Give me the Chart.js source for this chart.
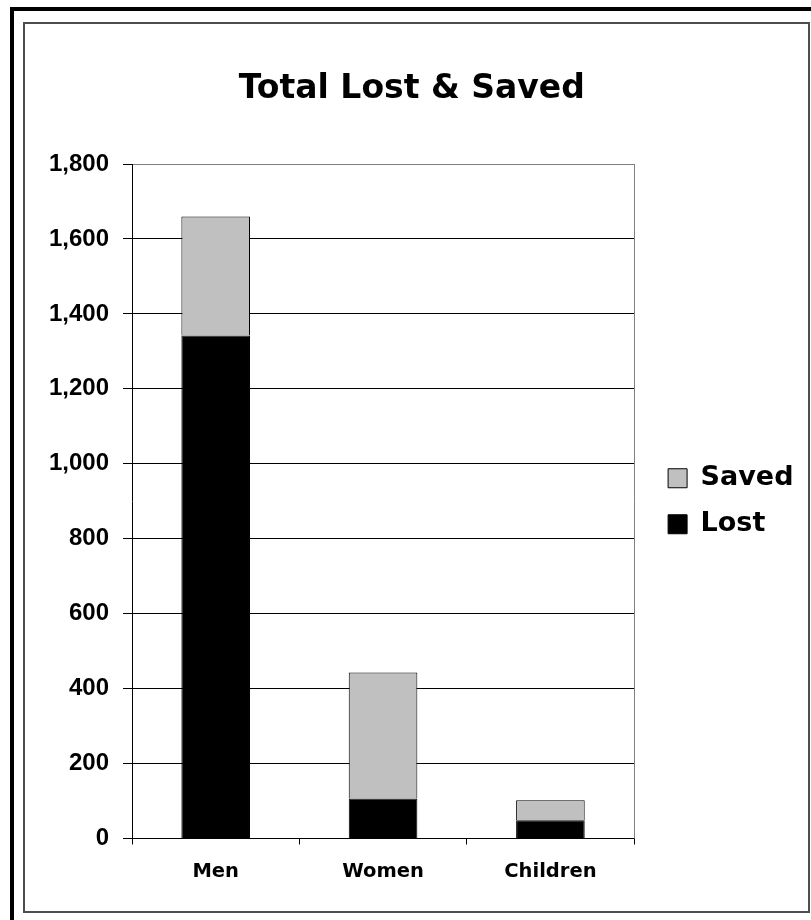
<!DOCTYPE html>
<html>
<head>
<meta charset="utf-8">
<script src="https://cdn.jsdelivr.net/npm/chart.js@4.4.1/dist/chart.umd.min.js"></script>
<style>
  html, body { margin: 0; padding: 0; background: #fff; }
  #wrap { width: 811px; height: 920px; position: relative; }
</style>
</head>
<body>
<div id="wrap"><canvas id="c"></canvas></div>
<script>
const categories = ['Men', 'Women', 'Children'];
const lostValues = [1342, 107, 49];
const savedValues = [318, 336, 53];
const yTickMax = 1800;
const yTickStep = 200;
const chartTitle = 'Total Lost & Saved';

const framePlugin = {
  id: 'frame',
  beforeDraw(chart) {
    const ctx = chart.ctx;
    ctx.save();
    ctx.fillStyle = '#ffffff';
    ctx.fillRect(0, 0, chart.width, chart.height);
    // outer black frame (top & left)
    ctx.fillStyle = '#000000';
    ctx.fillRect(10, 7, chart.width - 10, 4);
    ctx.fillRect(10, 7, 4, chart.height - 7);
    // inner gray border
    ctx.strokeStyle = '#4d4d4d';
    ctx.lineWidth = 2;
    ctx.strokeRect(24, 23, 785, 889);
    ctx.restore();
  },
  beforeDatasetsDraw(chart) {
    const a = chart.chartArea;
    const ctx = chart.ctx;
    ctx.save();
    ctx.strokeStyle = '#808080';
    ctx.lineWidth = 1;
    ctx.beginPath();
    ctx.moveTo(Math.round(a.right) + 0.5, a.top);
    ctx.lineTo(Math.round(a.right) + 0.5, a.bottom);
    ctx.stroke();
    ctx.restore();
  }
};

new Chart(document.getElementById('c'), {
  type: 'bar',
  data: {
    labels: categories,
    datasets: [
      { label: 'Lost', data: lostValues, backgroundColor: '#000000', borderColor: '#000000', borderWidth: 1 },
      { label: 'Saved', data: savedValues, backgroundColor: '#c0c0c0', borderColor: '#000000', borderWidth: 1 }
    ]
  },
  options: {
    responsive: true,
    maintainAspectRatio: false,
    animation: false,
    devicePixelRatio: 1,
    datasets: { bar: { categoryPercentage: 1.0, barPercentage: 0.41 } },
    layout: { padding: { top: 70, left: 20, right: 7.5, bottom: 40 } },
    plugins: {
      tooltip: { enabled: false },
      title: {
        display: true,
        text: chartTitle,
        color: '#000000',
        font: { family: 'DejaVu Sans', size: 33, weight: 'bold', lineHeight: 1.2 },
        padding: { top: 0, bottom: 54.4 }
      },
      legend: {
        display: true,
        position: 'right',
        fullSize: false,
        reverse: true,
        align: 'center',
        maxWidth: 220,
        labels: {
          color: '#000000',
          font: { family: 'DejaVu Sans', size: 27, weight: 'bold' },
          boxWidth: 19,
          boxHeight: 19,
          padding: 19
        }
      }
    },
    scales: {
      x: {
        stacked: true,
        grid: { display: true, drawOnChartArea: false, drawTicks: true, tickLength: 6, tickColor: '#000000', offset: true },
        border: { display: true, color: '#000000', width: 1 },
        ticks: {
          color: '#000000',
          padding: 16,
          font: { family: 'DejaVu Sans', size: 19.5, weight: 'bold' }
        },
        afterFit: (s) => { s.height = 41.5; }
      },
      y: {
        stacked: true,
        min: 0,
        max: yTickMax,
        grid: {
          color: (c) => (c.tick && c.tick.value === yTickMax) ? '#808080' : '#000000',
          lineWidth: 1,
          tickColor: '#000000',
          tickLength: 9
        },
        border: { display: true, color: '#000000', width: 1 },
        ticks: {
          stepSize: yTickStep,
          color: '#000000',
          padding: 14,
          font: { family: 'Liberation Sans', size: 24, weight: 'bold' },
          callback: (v) => Number(v).toLocaleString('en-US')
        },
        afterFit: (s) => { s.width = 112; }
      },
      y2: {
        position: 'right',
        display: true,
        grid: { display: false, drawTicks: false },
        border: { display: false },
        ticks: { display: false },
        afterFit: (s) => { s.width = 15; }
      }
    }
  },
  plugins: [framePlugin]
});
</script>
</body>
</html>
